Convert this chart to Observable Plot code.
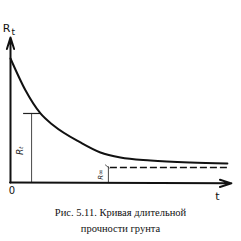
<!DOCTYPE html>
<html>
<head>
<meta charset="utf-8">
<script src="https://cdn.jsdelivr.net/npm/d3@7"></script>
<script src="https://cdn.jsdelivr.net/npm/@observablehq/plot@0.6"></script>
<style>
  html, body { margin: 0; padding: 0; background: #fff; }
  #chart { width: 241px; }
  .cap { font-family: "Liberation Serif", "Times New Roman", "DejaVu Serif", serif; font-size: 10.5px; line-height: 16px; text-align: center; padding-top: 0px; color: #111; }
</style>
</head>
<body>
<div id="chart"></div>
<script>
// Long-term strength curve R_t(t)
const T = [0, 0.68, 1.35, 1.94, 3.15, 4.05, 4.95, 6.31, 8.1, 9.77];
const Rt = [0.855, 0.634, 0.476, 0.393, 0.276, 0.207, 0.172, 0.152, 0.138, 0.131];
const Rinf = 0.103;          // asymptotic strength level
const tRinf = [4.5, 9.82];   // extent of dashed asymptote
const tMark = 0.95;          // time at which R_t is marked
const RtMark = 0.476;
const tInfMark = 4.41;
const captionLines = ["Рис. 5.11. Кривая длительной", "прочности грунта"];

const curve = T.map((t, i) => ({t, r: Rt[i]}));
const axesArrows = [
  {x1: 0, y1: 0, x2: 0, y2: 1.0},
  {x1: -0.02, y1: 0, x2: 9.95, y2: -0.006}
];
const labels = [
  {x: -0.18, y: 1.062, text: "R", size: 11, style: "normal"},
  {x: 0.12, y: 1.04, text: "t", size: 9, style: "italic"},
  {x: 0.06, y: -0.06, text: "0", size: 10, style: "italic"},
  {x: 9.32, y: -0.095, text: "t", size: 11, style: "italic"}
];
const rotLabels = [
  {x: 0.45, y: 0.22, text: "Rₜ", size: 9},
  {x: 4.05, y: 0.055, text: "R∞", size: 7}
];

const plot = Plot.plot({
  width: 241,
  height: 205,
  marginLeft: 10,
  marginRight: 9,
  marginTop: 37,
  marginBottom: 23,
  x: {domain: [0, 10], axis: null},
  y: {domain: [0, 1], axis: null},
  marks: [
    Plot.ruleX([tMark], {y1: 0, y2: RtMark, stroke: "#333", strokeWidth: 0.9}),
    Plot.ruleY([RtMark], {x1: 0.59, x2: 1.35, stroke: "#222", strokeWidth: 1.2}),
    Plot.ruleX([tInfMark], {y1: 0, y2: Rinf + 0.005, stroke: "#333", strokeWidth: 0.9}),
    Plot.link([{a: tInfMark - 0.15, b: Rinf + 0.02, c: tInfMark + 0.05, d: Rinf - 0.005}], {x1: "a", y1: "b", x2: "c", y2: "d", stroke: "#333", strokeWidth: 0.8}),
    Plot.ruleY([Rinf], {x1: tRinf[0], x2: tRinf[1], stroke: "#111", strokeWidth: 1.6, strokeDasharray: "7,3"}),
    Plot.line(curve, {x: "t", y: "r", curve: "monotone-x", stroke: "#111", strokeWidth: 2}),
    Plot.arrow(axesArrows, {x1: "x1", y1: "y1", x2: "x2", y2: "y2", stroke: "#111", strokeWidth: 2, headLength: 9, headAngle: 35}),
    Plot.text(labels, {x: "x", y: "y", text: "text", fontSize: d => d.size, fontStyle: d => d.style, fill: "#111", fontFamily: "DejaVu Sans, sans-serif"}),
    Plot.text(rotLabels, {x: "x", y: "y", text: "text", fontSize: d => d.size, rotate: -90, fontStyle: "italic", fill: "#222", fontFamily: "DejaVu Sans, sans-serif"})
  ]
});
document.getElementById("chart").appendChild(plot);
const cap = document.createElement("div");
cap.className = "cap";
cap.innerHTML = captionLines.join("<br>");
document.getElementById("chart").appendChild(cap);
</script>
</body>
</html>
